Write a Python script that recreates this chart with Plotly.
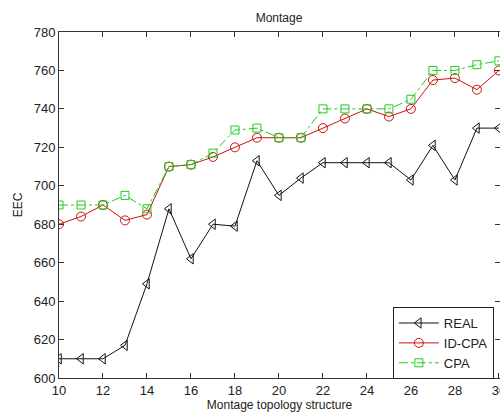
import plotly.graph_objects as go

x_vals = list(range(10, 31))
real = [610, 610, 610, 617, 649, 688, 662, 680, 679, 713, 695, 704, 712, 712, 712, 712, 703, 721, 703, 730, 730]
id_cpa = [680, 684, 690, 682, 685, 710, 711, 715, 720, 725, 725, 725, 730, 735, 740, 736, 740, 755, 756, 750, 760]
cpa = [690, 690, 690, 695, 688, 710, 711, 717, 729, 730, 725, 725, 740, 740, 740, 740, 745, 760, 760, 763, 765]

x_ticks = list(range(10, 31, 2))
y_ticks = list(range(600, 781, 20))

font = "Liberation Sans, Arial, sans-serif"

fig = go.Figure()
fig.add_trace(go.Scatter(
    x=x_vals, y=real, name="REAL", mode="lines+markers",
    line=dict(color="#111111", width=1),
    marker=dict(symbol="triangle-left-open", size=9, color="#111111", line=dict(width=1))))
fig.add_trace(go.Scatter(
    x=x_vals, y=id_cpa, name="ID-CPA", mode="lines+markers",
    line=dict(color="#cc1111", width=1),
    marker=dict(symbol="circle-open", size=9, color="#cc1111", line=dict(width=1))))
fig.add_trace(go.Scatter(
    x=x_vals, y=cpa, name="CPA", mode="lines+markers",
    line=dict(color="#22cc22", width=1, dash="dashdot"),
    marker=dict(symbol="square-open", size=8, color="#22cc22", line=dict(width=1))))

axis_common = dict(
    showgrid=False, zeroline=False, showline=True, linecolor="#333333", linewidth=1,
    mirror="ticks", ticks="inside", ticklen=5, tickcolor="#333333",
    tickfont=dict(family=font, size=13, color="#222222"),
    ticklabeloverflow="allow", automargin=False,
)

fig.update_layout(
    width=500, height=414,
    margin=dict(l=59, r=0, t=32, b=36),
    paper_bgcolor="white", plot_bgcolor="white",
    title=dict(text="Montage", x=0.558, xanchor="center", y=0.958, yanchor="middle",
               font=dict(family=font, size=12, color="#222222")),
    xaxis=dict(range=[10, 30.05], tickvals=x_ticks,
               title=dict(text="Montage topology structure", standoff=4,
                          font=dict(family=font, size=12, color="#222222")),
               **axis_common),
    yaxis=dict(range=[600, 780], tickvals=y_ticks,
               title=dict(text="EEC", standoff=8,
                          font=dict(family=font, size=12, color="#222222")),
               **axis_common),
    legend=dict(x=0.986, y=-0.003, xanchor="right", yanchor="bottom",
                bgcolor="white", bordercolor="#222222", borderwidth=1,
                font=dict(family=font, size=13, color="#222222"),
                tracegroupgap=0, itemwidth=40),
    showlegend=True,
)

fig.write_html("out.html", config={"displayModeBar": False},
               post_script="document.body.style.margin='0';")
